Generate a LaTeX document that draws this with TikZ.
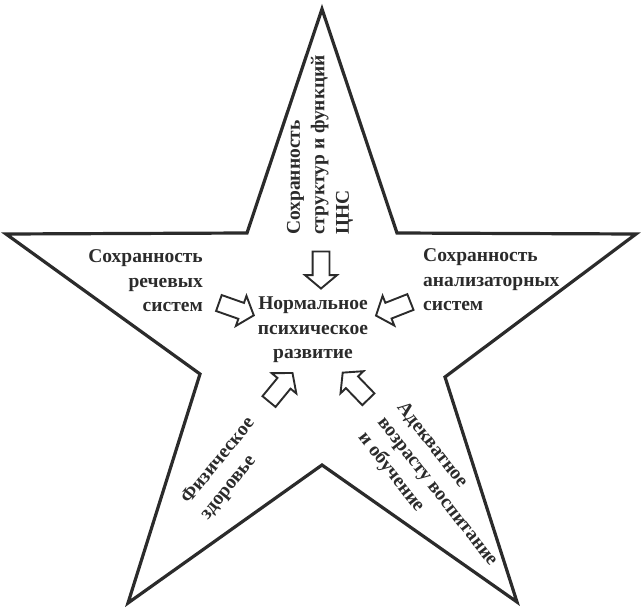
\documentclass[tikz,border=0pt]{standalone}
\usepackage{fontspec}
\setmainfont{Liberation Serif}
\usetikzlibrary{shapes.arrows}
\definecolor{ink}{HTML}{2B2B2B}
\tikzset{
    starline/.style={draw=ink, line width=3.2pt, line join=miter},
    lbl/.style={font=\bfseries\fontsize{19.5}{24.5}\selectfont, text=ink, inner sep=0pt},
    blockarrow/.style={single arrow, draw=ink, line width=1.9pt, fill=white,
        minimum height=37pt, minimum width=30pt, inner xsep=0pt, inner ysep=7.5pt,
        single arrow head extend=7.5pt, single arrow tip angle=100}
}
\begin{document}
\begin{tikzpicture}[x=1pt,y=-1pt]
        \useasboundingbox (0,0) rectangle (642,610);

        \draw[starline] (322,9) -- (397,233) -- (636,234) -- (445,377) -- (517,602)
            -- (322,465) -- (128,603) -- (200,374) -- (6,234) -- (247,233) -- cycle;

        \node[lbl, align=center]                       (norm)   at (313,330) {Нормальное\\психическое\\развитие};
        \node[lbl, align=left, rotate=90, anchor=west] (cns)    at (320,235) {Сохранность\\структур и функций\\ЦНС};
        \node[lbl, align=right, anchor=east]           (speech) at (203,281) {Сохранность\\речевых\\систем};
        \node[lbl, align=left, anchor=west]            (anal)   at (423,280) {Сохранность\\анализаторных\\систем};
        \node[lbl, align=left, rotate=51]              (phys)   at (228,469) {Физическое\\здоровье};
        \node[lbl, align=left, rotate=-52]             (educ)   at (437,492) {Адекватное\\возрасту воспитание\\и обучение};

        \node[blockarrow, rotate=-90]    (aTop)   at (321,266.5)   {};
        \node[blockarrow, rotate=-19.4]  (aLeft)  at (233,308)     {};
        \node[blockarrow, rotate=-158.5] (aRight) at (396.5,307.5) {};
        \node[blockarrow, rotate=50.6]   (aPhys)  at (278.5,390)   {};
        \node[blockarrow, rotate=134]    (aEduc)  at (358,388.5)   {};

    \end{tikzpicture}
\end{document}
